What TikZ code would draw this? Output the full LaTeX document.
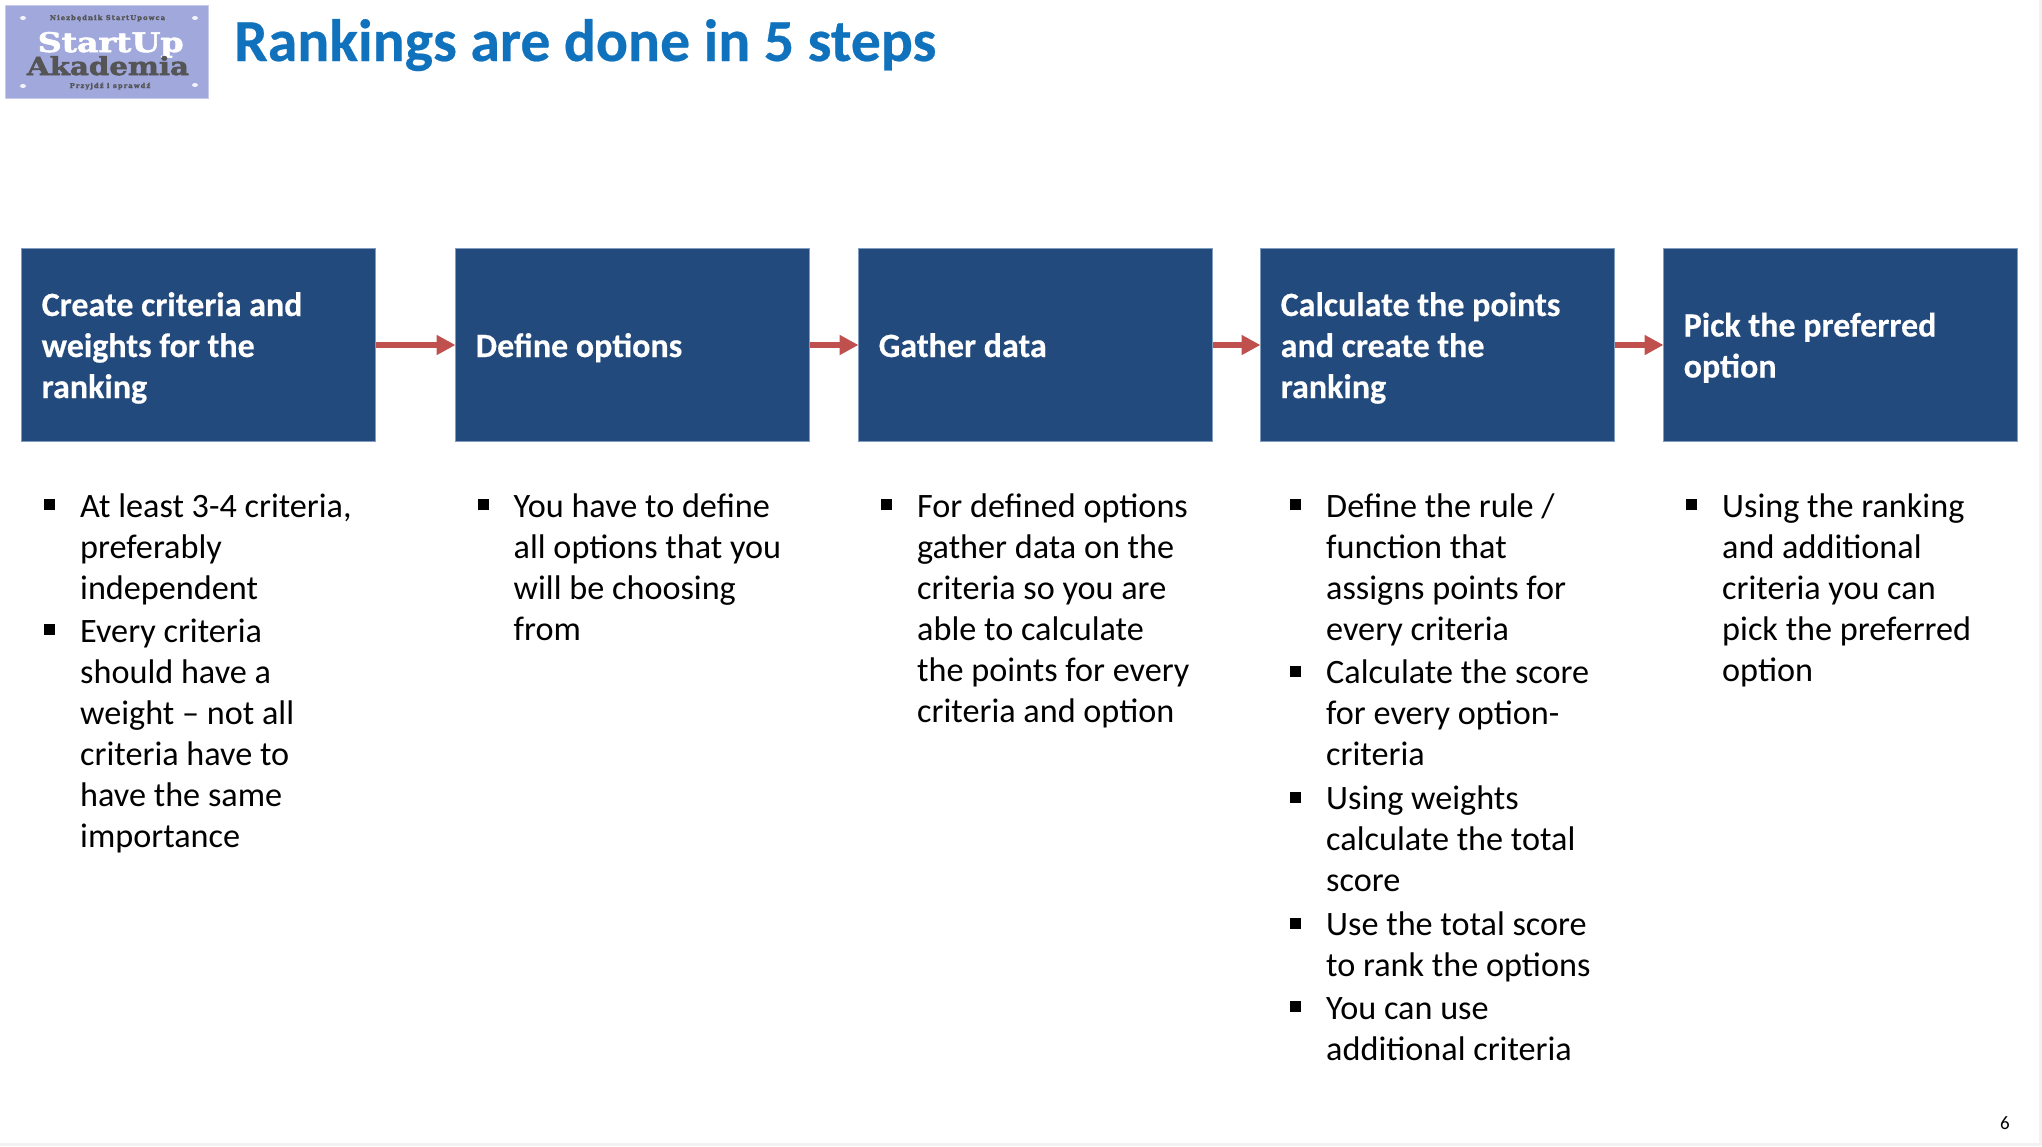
\documentclass[tikz,border=0pt]{standalone}
\usepackage{fontspec}
\setmainfont{Carlito}[BoldFeatures={FakeBold=0.4}]
\newfontfamily\logofont{DejaVu Serif}[BoldFeatures={FakeBold=2}]
\usetikzlibrary{arrows.meta, shapes.geometric}

\definecolor{boxblue}{HTML}{234A7C}
\definecolor{boxedge}{HTML}{7F9BBD}
\definecolor{arrowred}{HTML}{C0504D}
\definecolor{titleblue}{HTML}{1072BC}
\definecolor{logoblue}{HTML}{A0A8DC}
\definecolor{logogray}{HTML}{555555}
\definecolor{pagegray}{HTML}{F2F2F2}

\newcommand{\linestrut}{\rule[-12.3pt]{0pt}{41pt}}
\newcommand{\stepstrut}{\rule[-8.5pt]{0pt}{41pt}}

\tikzset{
    stepbox/.style={draw=boxedge, line width=1pt, fill=boxblue, text=white,
        minimum width=354pt, minimum height=193pt, inner xsep=20.2pt, inner ysep=0pt,
        text width=313.6pt, align=flush left, anchor=north west,
        font=\fontsize{34}{41}\selectfont\bfseries,
        execute at begin node=\stepstrut, execute at end node=\stepstrut},
    itemtext/.style={anchor=north west, inner sep=0pt, align=left,
        font=\fontsize{34.2}{41}\selectfont},
    itemmark/.style={fill=black, minimum size=11pt, inner sep=0pt},
    steparrow/.style={arrowred, line width=6.5pt,
        -{Triangle[length=19pt,width=19pt]}, shorten >=-0.5pt},
    logotext/.style={inner sep=0pt, anchor=base, transform shape},
    logohole/.style={fill=white!85!logoblue, ellipse, inner sep=0pt, minimum width=6pt, minimum height=4pt}
}

\begin{document}
\begin{tikzpicture}[x=1pt, y=-1pt]
\useasboundingbox (0, 0) rectangle (2042, 1146);
\fill[pagegray] (0, 0) rectangle (2042, 1146);
\fill[white] (0, 0) rectangle (2039, 1143);

% Draw logo.
\node[draw=logoblue!60!white, fill=logoblue, anchor=north west, minimum width=203pt,
    minimum height=93pt, inner sep=0pt] (logo) at (5, 5) {};
\foreach \name/\x/\y in {holea/23/18, holeb/195/18, holec/23/86, holed/195/85}
    \node[logohole] (\name) at (\x, \y) {};
\node[logotext, text=logogray, font=\logofont\bfseries\fontsize{6.7}{9}\selectfont] (logotop) at (107.5, 20)
    {N\,i\,e\,z\,b\,ę\,d\,n\,i\,k\ \,S\,t\,a\,r\,t\,U\,p\,o\,w\,c\,a};
\begin{scope}[xscale=1.23]
\node[logotext, text=white, font=\logofont\bfseries\fontsize{27}{30}\selectfont] (logostart) at (90, 52) {StartUp};
\end{scope}
\begin{scope}[xscale=1.17]
\node[logotext, text=logogray, font=\logofont\bfseries\fontsize{25}{28}\selectfont] (logoaka) at (92.3, 75) {Akademia};
\end{scope}
\node[logotext, text=logogray, font=\logofont\bfseries\fontsize{6.7}{9}\selectfont] (logobot) at (110, 88)
    {P\,r\,z\,y\,j\,d\,ź\ \,i\ \,s\,p\,r\,a\,w\,d\,ź};

% Draw title.
\node[anchor=base west, inner sep=0pt, text=titleblue,
    font=\fontsize{59.7}{66}\selectfont\bfseries] (title) at (234, 61) {Rankings are done in 5 steps};

% Draw steps.
\node[stepbox] (criteria) at (21, 248) {Create criteria and\\weights for the\\ranking};
\node[stepbox] (options) at (455, 248) {Define options};
\node[stepbox] (data) at (858, 248) {Gather data};
\node[stepbox] (points) at (1260, 248) {Calculate the points\\and create the\\ranking};
\node[stepbox] (pick) at (1663, 248) {Pick the preferred\\option};

% Draw arrows.
\foreach \from/\to in {criteria/options, options/data, data/points, points/pick}
    \draw[steparrow] (\from) -- (\to);

% Draw bullet lists.
\foreach \name/\x/\y/\txt in {
    itema/80/488.8/{At least 3-4 criteria,\\preferably\\independent},
    itemb/80/613.8/{Every criteria\\should have a\\weight -- not all\\criteria have to\\have the same\\importance},
    itemc/513.5/488.8/{You have to define\\all options that you\\will be choosing\\from},
    itemd/917/488.8/{For defined options\\gather data on the\\criteria so you are\\able to calculate\\the points for every\\criteria and option},
    iteme/1326/488.8/{Define the rule /\\function that\\assigns points for\\every criteria},
    itemf/1326/655/{Calculate the score\\for every option-\\criteria},
    itemg/1326/781/{Using weights\\calculate the total\\score},
    itemh/1326/907/{Use the total score\\to rank the options},
    itemi/1326/990.5/{You can use\\additional criteria},
    itemj/1722/488.8/{Using the ranking\\and additional\\criteria you can\\pick the preferred\\option}}
{
    \node[itemtext] (\name) at (\x, \y) {\linestrut\txt};
    \node[itemmark] (\name-mark) at ([xshift=-30.5pt, yshift=-16pt]\name.north west) {};
}

% Draw page number.
\node[inner sep=0pt, font=\fontsize{19}{23}\selectfont] (pagenum) at (2005, 1123) {6};
\end{tikzpicture}
\end{document}
